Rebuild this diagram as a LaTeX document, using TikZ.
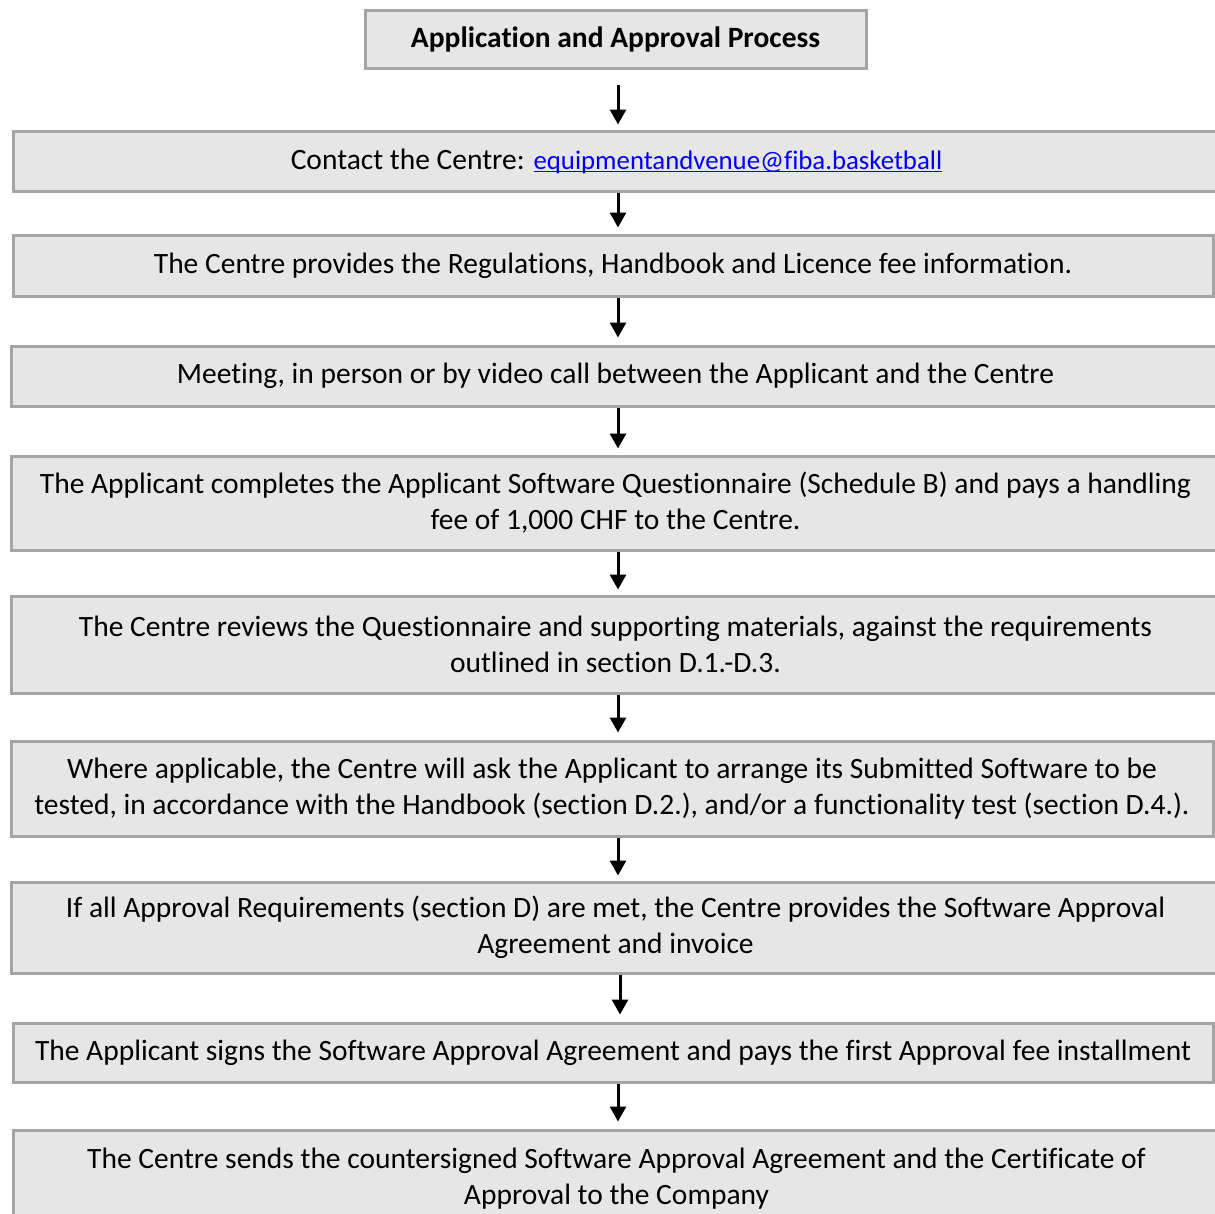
\documentclass[tikz,border=0pt]{standalone}
\usepackage{fontspec}
\setmainfont{Carlito}[Ligatures={NoCommon}]
\usetikzlibrary{arrows.meta}
\definecolor{boxfill}{HTML}{E7E6E6}
\definecolor{boxline}{HTML}{A5A5A5}
\definecolor{linkblue}{HTML}{0000FF}
\newcommand\linkul[1]{\setbox0\hbox{#1}\rlap{\rule[-3.4pt]{\wd0}{1.5pt}}\box0}
\begin{document}
\begin{tikzpicture}[x=1pt,y=-1pt,
  stepbox/.style={draw=boxline, fill=boxfill, line width=3pt, anchor=north west,
    inner sep=0pt, align=center, font=\fontsize{29.5}{36}\selectfont},
  arr/.style={line width=3pt, -{Triangle[width=16pt,length=15pt]}}]
\useasboundingbox (0,0) rectangle (1215,1213);
\node[stepbox, minimum width=501pt, minimum height=58pt, font=\fontsize{29.5}{36}\selectfont\bfseries] (b1) at (363.5,8.5) {Application and Approval Process};
\node[stepbox, minimum width=1207pt, minimum height=60pt] (b2) at (11.5,129.5) {Contact the Centre: {\fontsize{26.8}{36}\selectfont\textcolor{linkblue}{\linkul{equipmentandvenue@fiba.basketball}}}};
\node[stepbox, minimum width=1200pt, minimum height=61pt] (b3) at (11.5,233.5) {The Centre provides the Regulations, Handbook and Licence fee information.};
\node[stepbox, minimum width=1209pt, minimum height=60pt] (b4) at (9.5,344.5) {Meeting, in person or by video call between the Applicant and the Centre};
\node[stepbox, minimum width=1209pt, minimum height=94pt] (b5) at (9.5,454.5) {The Applicant completes the Applicant Software Questionnaire (Schedule B) and pays a handling\\fee of 1,000 CHF to the Centre.};
\node[stepbox, minimum width=1209pt, minimum height=97pt] (b6) at (9.5,594.5) {The Centre reviews the Questionnaire and supporting materials, against the requirements\\outlined in section D.1.-D.3.};
\node[stepbox, minimum width=1202pt, minimum height=95pt] (b7) at (9.5,739.5) {Where applicable, the Centre will ask the Applicant to arrange its Submitted Software to be\\tested, in accordance with the Handbook (section D.2.), and/or a functionality test (section D.4.).};
\node[stepbox, minimum width=1209pt, minimum height=91pt] (b8) at (9.5,880.5) {If all Approval Requirements (section D) are met, the Centre provides the Software Approval\\Agreement and invoice};
\node[stepbox, minimum width=1200pt, minimum height=59pt] (b9) at (11.5,1021.5) {The Applicant signs the Software Approval Agreement and pays the first Approval fee installment};
\node[stepbox, minimum width=1207pt, minimum height=98pt] (b10) at (11.5,1128.5) {The Centre sends the countersigned Software Approval Agreement and the Certificate of\\Approval to the Company};
\coordinate (ax) at (618,0);
\coordinate (ay) at (620,0);
\draw[arr, shorten <=15pt, shorten >=5pt] (b1.south -| ax) -- (b2.north -| ax);
\draw[arr, shorten <=0pt, shorten >=6pt] (b2.south -| ax) -- (b3.north -| ax);
\draw[arr, shorten <=0pt, shorten >=7pt] (b3.south -| ax) -- (b4.north -| ax);
\draw[arr, shorten <=0pt, shorten >=6pt] (b4.south -| ax) -- (b5.north -| ax);
\draw[arr, shorten <=0pt, shorten >=5pt] (b5.south -| ax) -- (b6.north -| ax);
\draw[arr, shorten <=0pt, shorten >=7pt] (b6.south -| ax) -- (b7.north -| ax);
\draw[arr, shorten <=0pt, shorten >=5pt] (b7.south -| ax) -- (b8.north -| ax);
\draw[arr, shorten <=0pt, shorten >=7pt] (b8.south -| ay) -- (b9.north -| ay);
\draw[arr, shorten <=0pt, shorten >=7pt] (b9.south -| ax) -- (b10.north -| ax);
\end{tikzpicture}
\end{document}
